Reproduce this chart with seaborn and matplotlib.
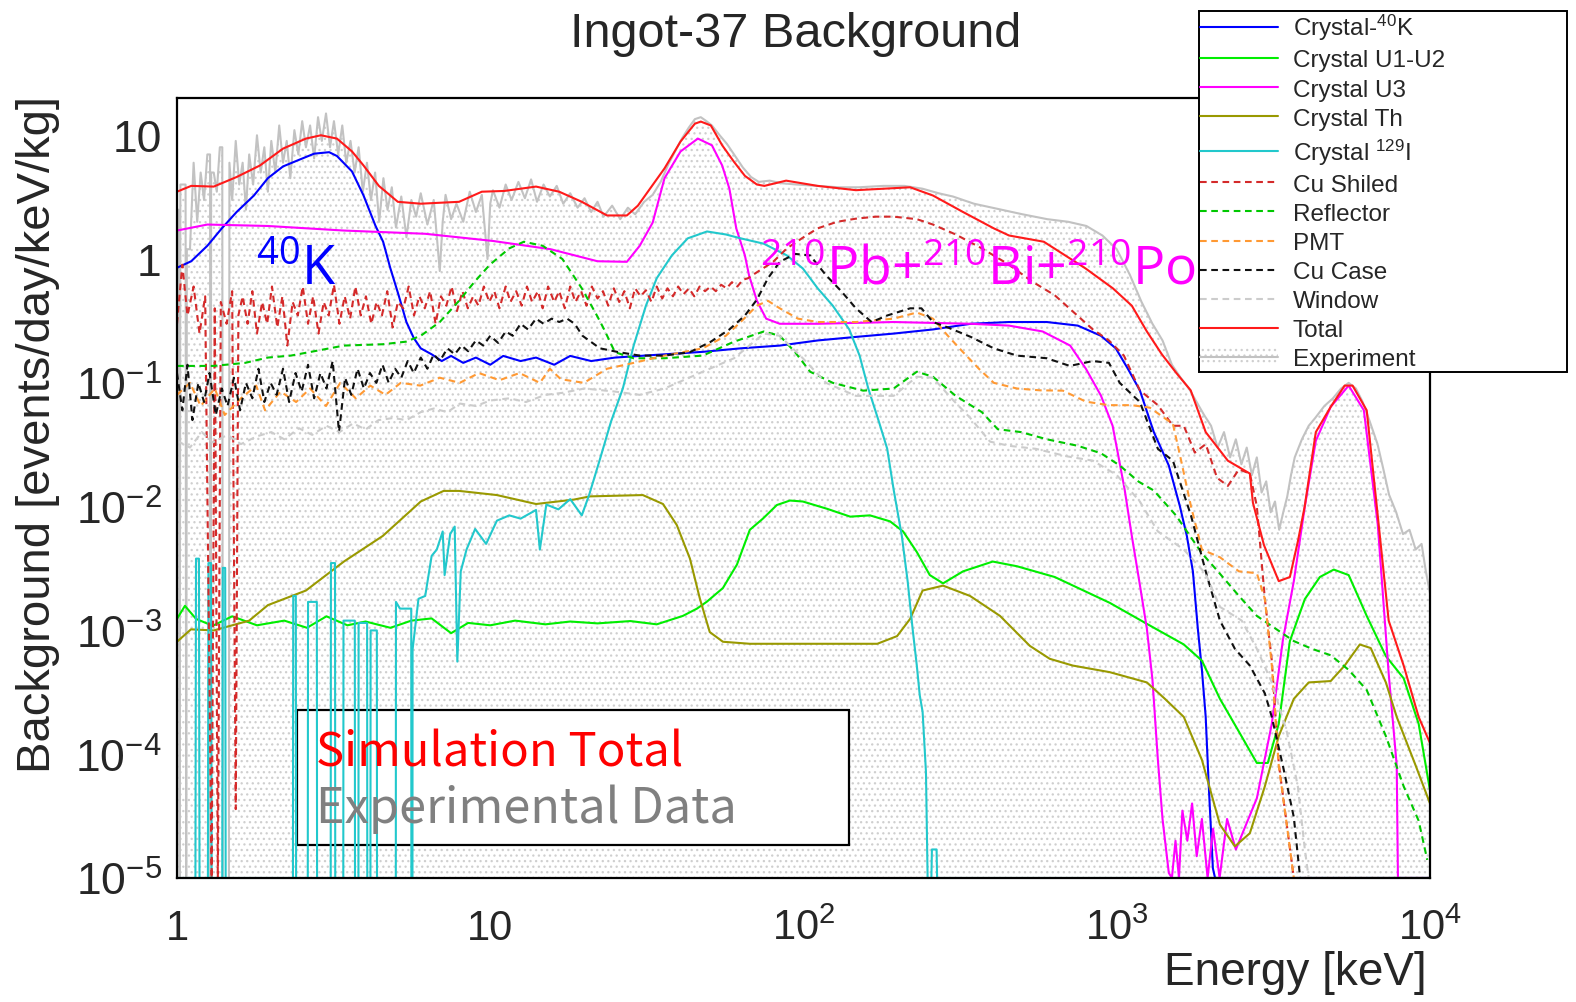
import numpy as np
import matplotlib
matplotlib.use("Agg")
import matplotlib.pyplot as plt
import seaborn as sns
from matplotlib.patches import Rectangle, Patch
from matplotlib.lines import Line2D
from matplotlib.ticker import FixedLocator, FixedFormatter, LogLocator, NullFormatter

# ---------------- data (energy in keV, background in events/day/keV/kg) ----------------
x_ticks = [1, 10, 100, 1000, 10000]
x_tick_labels = ["1", "10", "$10^{2}$", "$10^{3}$", "$10^{4}$"]
y_ticks = [1e-5, 1e-4, 1e-3, 1e-2, 1e-1, 1, 10]
y_tick_labels = ["$10^{-5}$", "$10^{-4}$", "$10^{-3}$", "$10^{-2}$", "$10^{-1}$", "1", "10"]

exp_E = [1.00, 1.015, 1.02, 1.025, 1.05, 1.065, 1.07, 1.075, 1.10, 1.13, 1.16, 1.19, 1.22, 1.25, 1.275, 1.28,
         1.285, 1.31, 1.34, 1.37, 1.395, 1.40, 1.465, 1.47, 1.50, 1.54, 1.58, 1.62, 1.66, 1.70, 1.75, 1.80,
         1.85, 1.90, 1.95, 2.00, 2.06, 2.12, 2.18, 2.24, 2.30, 2.37, 2.44, 2.51, 2.58, 2.66, 2.74, 2.82,
         2.90, 2.99, 3.08, 3.17, 3.27, 3.37, 3.47, 3.58, 3.69, 3.80, 3.92, 4.04, 4.16, 4.29, 4.42, 4.56,
         4.70, 4.85, 5.00, 5.20, 5.40, 5.60, 5.80, 6.00, 6.30, 6.60, 6.90, 7.05, 7.20, 7.50, 7.80, 8.20,
         8.60, 9.00, 9.40, 9.80, 10.0, 10.2, 10.7, 11.2, 11.7, 12.3, 12.9, 13.5, 14.1, 14.8, 15.5, 16.3,
         17.1, 18.0, 19.0, 20.0, 21.0, 22.0, 23.0, 24.5, 26.0, 27.5, 29.0, 31.0, 33.0, 35.0, 37.0, 39.0,
         41.0, 43.0, 45.0, 47.0, 49.0, 51.0, 54.0, 57.0, 60.0, 64.0, 68.0, 72.0, 78.0, 85.0, 95.0, 110,
         130, 150, 180, 210, 240, 270, 300, 350, 400, 500, 600, 700, 800, 900, 1000, 1100,
         1200, 1300, 1400, 1500, 1600, 1700, 1800, 1900, 2000, 2100, 2200, 2300, 2400, 2500, 2600, 2700,
         2800, 2900, 3000, 3100, 3200, 3300, 3400, 3500, 3600, 3700, 3900, 4100, 4300, 4600, 4900, 5200,
         5500, 5800, 6100, 6400, 6800, 7100, 7400, 7800, 8200, 8600, 9000, 9400, 9700, 10000]
exp_V = [2.5, 2.5, 0, 4.0, 4.0, 4.0, 0, 1.2, 1.2, 6.0, 2.0, 5.0, 3.0, 7.0, 7.0, 0,
         5.0, 5.0, 3.5, 8.0, 8.0, 0, 0, 6.0, 3.0, 9.0, 4.0, 6.0, 2.5, 7.0, 4.0, 10,
         5.0, 8.0, 3.5, 9.0, 5.0, 12, 6.0, 9.0, 4.5, 11, 7.0, 13, 8.0, 12, 6.5, 14,
         9.0, 15, 8.0, 13, 7.0, 12, 6.0, 9.0, 5.0, 8.0, 3.5, 6.0, 3.0, 5.0, 2.0, 4.5,
         2.5, 3.8, 1.8, 3.2, 1.5, 3.0, 2.2, 3.4, 1.9, 3.0, 0.8, 2.0, 3.3, 2.1, 2.8, 2.0,
         3.5, 2.4, 3.3, 1.0, 2.8, 3.6, 2.6, 4.0, 3.0, 4.2, 3.1, 4.4, 2.9, 4.0, 3.2, 3.9,
         2.8, 3.4, 2.6, 3.1, 2.4, 2.9, 2.2, 2.7, 2.1, 2.6, 2.3, 2.9, 3.3, 4.2, 5.8, 7.5,
         9.5, 11.5, 13.5, 14.0, 13.0, 12.0, 10.0, 8.5, 7.0, 5.5, 4.6, 4.2, 4.3, 4.1, 4.0, 3.9,
         3.8, 3.8, 3.9, 3.9, 3.7, 3.4, 3.2, 2.8, 2.6, 2.3, 2.1, 2.0, 1.85, 1.55, 1.2, 0.75,
         0.45, 0.3, 0.22, 0.14, 0.11, 0.09, 0.07, 0.055, 0.045, 0.03, 0.04, 0.025, 0.035, 0.022, 0.03, 0.018,
         0.025, 0.013, 0.016, 0.009, 0.011, 0.0065, 0.009, 0.012, 0.018, 0.025, 0.035, 0.045, 0.052, 0.065, 0.075, 0.09,
         0.1, 0.09, 0.07, 0.05, 0.032, 0.02, 0.0125, 0.009, 0.006, 0.0065, 0.0045, 0.005, 0.003, 0.002]

total_E = [1.0, 1.11, 1.31, 1.55, 1.84, 2.18, 2.58, 2.88, 3.24, 3.62, 3.94, 4.41, 5.07, 6.0, 7.95, 9.4,
           11.1, 14, 16.6, 19.6, 23.6, 27.3, 29.6, 36, 40.5, 45, 47, 50.6, 55, 60, 65, 71,
           75, 88, 111, 147, 219, 259, 323, 405, 453, 585, 795, 972, 1117, 1248, 1393, 1550,
           1722, 1923, 2263, 2660, 2720, 2950, 3290, 3570, 3790, 3980, 4320, 4820, 5340, 5660, 6280, 6810,
           7380, 8240, 9200, 10000]
total_V = [3.5, 3.9, 3.85, 4.6, 5.7, 7.8, 9.4, 10, 9.4, 7.4, 5.7, 3.9, 2.9, 2.8, 2.9, 3.5,
           3.55, 3.85, 3.5, 2.9, 2.25, 2.25, 2.7, 5.4, 8.9, 12.4, 12.9, 12, 8.3, 6.1, 4.7, 4.0,
           3.9, 4.3, 3.9, 3.6, 3.8, 3.26, 2.4, 1.77, 1.55, 1.38, 0.84, 0.58, 0.42, 0.26, 0.17, 0.12,
           0.087, 0.040, 0.0235, 0.0185, 0.0108, 0.0049, 0.0025, 0.0027, 0.0053, 0.010, 0.040, 0.064, 0.095, 0.095, 0.060, 0.0085,
           0.0012, 0.00052, 0.0002, 0.000123]

k40_E = [1.0, 1.11, 1.25, 1.39, 1.55, 1.76, 1.95, 2.18, 2.44, 2.74, 3.06, 3.24, 3.62, 3.94, 4.3, 4.55,
         4.8, 5.1, 5.4, 5.7, 6.0, 6.5, 7.0, 7.5, 8.2, 9.0, 10, 11, 12.5, 14, 16, 18,
         21, 25, 30, 36, 47.7, 63, 84, 111, 147, 194, 259, 342, 453, 598, 751, 890,
         993, 1085, 1185, 1313, 1466, 1590, 1674, 1750, 1815, 1870, 1923, 1967, 2027, 2060, 10000]
k40_V = [0.85, 0.96, 1.28, 1.77, 2.4, 3.26, 4.5, 5.6, 6.3, 7.1, 7.3, 6.8, 5.1, 3.26, 1.86, 1.38,
         0.84, 0.51, 0.31, 0.23, 0.19, 0.17, 0.15, 0.165, 0.145, 0.16, 0.14, 0.165, 0.15, 0.16, 0.14, 0.165,
         0.15, 0.16, 0.165, 0.17, 0.178, 0.19, 0.2, 0.22, 0.235, 0.25, 0.27, 0.30, 0.31, 0.31, 0.29, 0.24,
         0.19, 0.13, 0.087, 0.04, 0.0215, 0.0101, 0.0058, 0.003, 0.00103, 0.00048, 0.0002, 5.5e-5, 1.2e-5, 0, 0]

u12_E = [1.0, 1.06, 1.15, 1.3, 1.5, 1.8, 2.2, 2.6, 3.0, 3.5, 4.0, 4.8, 5.6, 6.5, 7.5, 8.5,
         10, 12, 15, 18, 22, 28, 34, 41.2, 45.7, 49.2, 55.3, 61.3, 67.4, 74.2, 82.2, 90.5,
         99.5, 119, 141, 163, 189, 208, 230, 253, 279, 323, 402, 480, 634, 950, 1248, 1637,
         1870, 2135, 2455, 2800, 3035, 3290, 3570, 3985, 4450, 4930, 5500, 6280, 7230, 8240, 9200, 10000]
u12_V = [0.00124, 0.00158, 0.00124, 0.00109, 0.0013, 0.0011, 0.0012, 0.00105, 0.0013, 0.0011, 0.00118, 0.00105, 0.0012, 0.00125, 0.00095, 0.00115,
         0.0011, 0.0012, 0.00112, 0.00118, 0.00114, 0.00119, 0.00112, 0.00131, 0.0015, 0.00171, 0.0022, 0.0034, 0.0065, 0.008, 0.0103, 0.0112,
         0.011, 0.0096, 0.0083, 0.0085, 0.0076, 0.0063, 0.0043, 0.0028, 0.0024, 0.003, 0.0036, 0.0033, 0.0027, 0.00167, 0.00113, 0.00077,
         0.00057, 0.00028, 0.000152, 8.5e-5, 8.5e-5, 0.000176, 0.00082, 0.00179, 0.0027, 0.0031, 0.0028, 0.00131, 0.00062, 0.00041, 0.000176, 5.1e-5]

u3_E = [1.0, 1.25, 1.95, 3.4, 6.2, 10.2, 15.6, 22, 27.3, 30, 33, 36, 40.5, 46, 51, 55,
        58, 61, 65, 67, 71, 76, 84, 111, 194, 342, 453, 580, 710, 797, 890, 970,
        1008, 1060, 1117, 1180, 1248, 1300, 1353, 1400, 1466, 1500, 1540, 1580, 1620, 1680, 1740, 1800,
        1870, 1950, 2030, 2130, 2250, 2400, 2800, 3126, 3390, 3675, 3985, 4320, 4820, 5500, 6150, 6810,
        7380, 7830, 7900, 10000]
u3_V = [1.7, 1.9, 1.85, 1.7, 1.6, 1.4, 1.2, 0.96, 0.95, 1.28, 1.97, 4.5, 7.4, 9.4, 8.3, 5.7,
        3.7, 1.77, 1.07, 0.74, 0.46, 0.33, 0.30, 0.30, 0.31, 0.30, 0.29, 0.26, 0.2, 0.13, 0.079, 0.045,
        0.027, 0.0137, 0.0058, 0.0025, 0.00103, 0.0004, 9e-5, 3e-5, 1.1e-5, 0, 2e-5, 0, 3.5e-5, 2e-5, 4e-5, 1.5e-5,
        3e-5, 0, 2.5e-5, 0, 3e-5, 1.7e-5, 4.4e-5, 0.000176, 0.00083, 0.0025, 0.01, 0.034, 0.064, 0.095, 0.06, 0.0072,
        0.00045, 8.1e-5, 0, 0]

th_E = [1.0, 1.108, 1.31, 1.7, 1.95, 2.58, 3.41, 4.54, 6.0, 7.1, 7.95, 10.5, 14, 18.5, 20.8, 30.7,
        35.6, 39.4, 43.4, 46.7, 50.2, 55.3, 67.4, 110, 172, 199, 219, 240, 279, 340, 424, 528,
        611, 724, 950, 1248, 1425, 1637, 1870, 2135, 2383, 2660, 2970, 3290, 3675, 4100, 4820, 5340,
        5970, 6470, 7230, 7830, 8950, 10000]
th_V = [0.00081, 0.00102, 0.001, 0.0012, 0.0016, 0.0021, 0.0036, 0.0058, 0.011, 0.0134, 0.0134, 0.0124, 0.0105, 0.0114, 0.0121, 0.0124,
        0.0105, 0.0071, 0.0038, 0.0018, 0.00097, 0.00081, 0.00078, 0.00078, 0.00078, 0.0009, 0.00124, 0.0021, 0.0023, 0.0019, 0.00131, 0.00075,
        0.00059, 0.00052, 0.00046, 0.00038, 0.00028, 0.0002, 9e-5, 2.7e-5, 1.8e-5, 2.3e-5, 5.5e-5, 0.00014, 0.00028, 0.00038, 0.00039, 0.00052,
        0.00077, 0.00072, 0.00038, 0.0002, 8.4e-5, 4e-5]

i129_E = [1.0, 1.145, 1.15, 1.175, 1.18, 1.255, 1.26, 1.285, 1.29, 1.395, 1.40, 1.425, 1.43, 2.345, 2.35, 2.395,
          2.40, 2.615, 2.62, 2.795, 2.80, 3.095, 3.10, 3.195, 3.20, 3.395, 3.40, 3.695, 3.70, 3.795, 3.80, 4.045,
          4.05, 4.145, 4.15, 4.345, 4.35, 4.995, 5.0, 5.15, 5.595, 5.6, 5.645, 5.65, 5.9, 6.2, 6.5, 6.75,
          7.05, 7.15, 7.45, 7.7, 7.85, 8.05, 8.4, 8.95, 9.7, 10.5, 11.5, 12.5, 14.0, 14.4, 15.1, 16.5,
          18.0, 19.6, 20.7, 22.4, 24.3, 26.5, 28.7, 31.4, 34.0, 38.0, 42.7, 49.2, 56.5, 63, 74.7, 88.5,
          99.5, 111, 124, 140, 151, 161, 174, 185, 194, 206, 215, 223, 230, 235, 240, 246,
          249, 256, 257, 266, 267, 10000]
i129_V = [0, 0, 0.0038, 0.0038, 0, 0, 0.0035, 0.0035, 0, 0, 0.0032, 0.0032, 0, 0, 0.0019, 0.0019,
          0, 0, 0.0017, 0.0017, 0, 0, 0.0035, 0.0035, 0, 0, 0.0012, 0.0012, 0, 0, 0.00115, 0.00115,
          0, 0, 0.001, 0.001, 0, 0, 0.0017, 0.0015, 0.0015, 0, 0, 0.0007, 0.0018, 0.0019, 0.004, 0.0045,
          0.0063, 0.0028, 0.006, 0.0069, 0.00056, 0.003, 0.0045, 0.0066, 0.005, 0.0077, 0.0085, 0.008, 0.0094, 0.0045, 0.0104, 0.0095,
          0.0115, 0.0085, 0.0125, 0.0242, 0.0487, 0.09, 0.2, 0.42, 0.70, 1.07, 1.47, 1.67, 1.58, 1.47, 1.33, 1.07,
          0.84, 0.58, 0.42, 0.27, 0.166, 0.09, 0.0487, 0.0294, 0.0137, 0.0058, 0.0025, 0.00103, 0.00052, 0.0003, 0.00022, 7.2e-5,
          0, 0, 1.7e-5, 1.7e-5, 0, 0]

cus_E = [1.00, 1.04, 1.08, 1.13, 1.18, 1.23, 1.29, 1.32, 1.35, 1.38, 1.44, 1.50, 1.54, 1.57, 1.62, 1.68,
         1.74, 1.80, 1.87, 1.94, 2.01, 2.09, 2.17, 2.25, 2.34, 2.43, 2.52, 2.62, 2.72, 2.83, 2.94, 3.05,
         3.17, 3.30, 3.43, 3.57, 3.71, 3.86, 4.01, 4.17, 4.34, 4.51, 4.69, 4.88, 5.07, 5.28, 5.49, 5.71,
         5.94, 6.18, 6.43, 6.69, 6.96, 7.24, 7.53, 7.83, 8.15, 8.48, 8.82, 9.17, 9.54, 9.93, 10.3, 10.7,
         11.2, 11.6, 12.1, 12.6, 13.1, 13.6, 14.2, 14.7, 15.3, 16.0, 16.6, 17.3, 18.0, 18.7, 19.5, 20.3,
         21.1, 22.0, 22.9, 23.8, 24.8, 25.8, 26.8, 27.9, 29.0, 30.2, 31.4, 32.7, 34.0, 35.4, 36.8, 38.3,
         39.8, 41.4, 43.1, 44.8, 46.6, 48.5, 50.5, 52.5, 54.6, 56.8, 59.1, 61.5, 64, 66.5, 69.2, 72,
         80, 88.5, 100, 111, 128, 147, 170, 194, 230, 259, 306, 371, 453, 536, 634, 730,
         839, 944, 1054, 1185, 1353, 1511, 1637, 1775, 1923, 2090, 2263, 2455, 2660, 2800, 2970, 3126,
         3290, 3490, 3675, 10000]
cus_V = [0.3, 0.9, 0.35, 0.6, 0.25, 0.5, 0, 0.4, 0, 0.45, 0.3, 0.55, 3.6e-5, 0.35, 0.5, 0.3,
         0.55, 0.25, 0.45, 0.3, 0.6, 0.28, 0.5, 0.2, 0.45, 0.35, 0.6, 0.3, 0.5, 0.25, 0.45, 0.35,
         0.62, 0.3, 0.5, 0.33, 0.6, 0.35, 0.5, 0.3, 0.45, 0.35, 0.55, 0.28, 0.45, 0.4, 0.6, 0.35,
         0.5, 0.4, 0.55, 0.3, 0.5, 0.42, 0.6, 0.38, 0.55, 0.4, 0.5, 0.42, 0.6, 0.45, 0.55, 0.4,
         0.6, 0.45, 0.55, 0.42, 0.6, 0.45, 0.55, 0.4, 0.6, 0.45, 0.55, 0.4, 0.6, 0.45, 0.55, 0.42,
         0.6, 0.48, 0.55, 0.42, 0.58, 0.45, 0.55, 0.4, 0.58, 0.5, 0.56, 0.45, 0.6, 0.48, 0.58, 0.5,
         0.6, 0.52, 0.58, 0.5, 0.6, 0.55, 0.6, 0.55, 0.62, 0.58, 0.65, 0.6, 0.68, 0.7, 0.75, 0.8,
         0.95, 1.22, 1.5, 1.77, 2.0, 2.12, 2.2, 2.2, 2.1, 1.9, 1.58, 1.22, 0.9, 0.66, 0.51, 0.37,
         0.27, 0.22, 0.166, 0.087, 0.066, 0.045, 0.045, 0.0273, 0.032, 0.0171, 0.0147, 0.02, 0.0185, 0.0101, 0.0018, 0.00057,
         8.4e-5, 2.7e-5, 0, 0]

refl_E = [1.0, 1.31, 1.65, 1.95, 2.31, 2.74, 3.41, 4.54, 5.38, 6.0, 6.9, 7.95, 8.93, 9.97, 11.5, 12.8,
          14.7, 17.0, 19.6, 21.9, 23.1, 25, 28.7, 36, 47.7, 60, 74.7, 84, 94, 105, 124, 155,
          194, 230, 259, 306, 371, 417, 495, 598, 751, 890, 1022, 1175, 1313, 1545, 1870, 2135,
          2455, 2800, 3220, 3675, 4200, 4820, 5500, 6280, 7230, 8240, 9200, 9800]
refl_V = [0.137, 0.137, 0.145, 0.16, 0.166, 0.18, 0.2, 0.205, 0.215, 0.24, 0.31, 0.46, 0.66, 0.9, 1.22, 1.38,
          1.28, 1.0, 0.58, 0.35, 0.27, 0.177, 0.158, 0.158, 0.166, 0.215, 0.26, 0.24, 0.177, 0.123, 0.1, 0.0865,
          0.09, 0.123, 0.112, 0.0785, 0.058, 0.0422, 0.04, 0.035, 0.031, 0.027, 0.0215, 0.0159, 0.0135, 0.0085, 0.0042, 0.00287,
          0.0019, 0.00131, 0.00103, 0.00082, 0.00071, 0.00063, 0.00048, 0.00033, 0.00014, 5.5e-5, 2.9e-5, 1.4e-5]

pmt_E = [1.0, 1.1, 1.19, 1.32, 1.42, 1.6, 1.79, 1.91, 2.14, 2.4, 2.66, 2.99, 3.32, 3.72, 4.14, 4.63,
         5.18, 5.98, 6.9, 7.99, 9.2, 10.7, 12.4, 14.4, 15.5, 16.8, 19.9, 23.6, 28.7, 36, 47.7, 56.5,
         63, 71, 77, 84, 96, 111, 147, 194, 230, 259, 289, 323, 363, 405, 480, 569,
         673, 797, 944, 1117, 1276, 1511, 1590, 1725, 1870, 2135, 2455, 2800, 2970, 3126, 3290, 3490,
         3675, 10000]
pmt_V = [0.08, 0.1, 0.065, 0.09, 0.055, 0.075, 0.095, 0.06, 0.085, 0.07, 0.09, 0.065, 0.1, 0.075, 0.095, 0.08,
         0.1, 0.095, 0.11, 0.1, 0.12, 0.105, 0.12, 0.1, 0.13, 0.107, 0.1, 0.13, 0.145, 0.166, 0.19, 0.24,
         0.31, 0.42, 0.46, 0.4, 0.33, 0.31, 0.31, 0.33, 0.37, 0.33, 0.24, 0.177, 0.13, 0.1, 0.09, 0.087,
         0.0865, 0.0705, 0.066, 0.066, 0.063, 0.0465, 0.0263, 0.0101, 0.0045, 0.0039, 0.003, 0.0029, 0.0018, 0.00052, 8.1e-5, 2.7e-5,
         0, 0]

cuc_E = [1.0, 1.04, 1.08, 1.12, 1.17, 1.22, 1.27, 1.33, 1.39, 1.45, 1.52, 1.59, 1.66, 1.74, 1.82, 1.9,
         1.99, 2.08, 2.18, 2.28, 2.39, 2.5, 2.62, 2.74, 2.87, 3.0, 3.14, 3.29, 3.44, 3.6, 3.77, 3.95,
         4.13, 4.33, 4.53, 4.74, 4.97, 5.2, 5.45, 5.7, 6.0, 6.3, 6.6, 6.9, 7.3, 7.7, 8.1, 8.5,
         9.0, 9.5, 10, 10.6, 11.2, 11.8, 12.5, 13.2, 14, 14.8, 15.7, 16.6, 17.6, 18.6, 19.7, 22.4,
         25.7, 30, 36, 43.4, 50.6, 58, 65, 71, 77, 84, 94, 105, 118, 132, 147, 165,
         185, 219, 238, 259, 289, 342, 405, 480, 598, 708, 839, 944, 1022, 1185, 1353, 1511,
         1725, 1923, 2135, 2383, 2660, 2970, 3126, 3390, 3675, 3850, 10000]
cuc_V = [0.12, 0.06, 0.14, 0.05, 0.1, 0.07, 0.12, 0.055, 0.09, 0.065, 0.11, 0.06, 0.1, 0.075, 0.13, 0.07,
         0.1, 0.08, 0.13, 0.07, 0.12, 0.085, 0.14, 0.075, 0.12, 0.09, 0.15, 0.04, 0.11, 0.08, 0.13, 0.09,
         0.12, 0.1, 0.14, 0.1, 0.13, 0.11, 0.15, 0.12, 0.16, 0.13, 0.17, 0.15, 0.19, 0.17, 0.2, 0.18,
         0.22, 0.2, 0.24, 0.21, 0.26, 0.24, 0.3, 0.27, 0.33, 0.3, 0.33, 0.31, 0.33, 0.3, 0.24, 0.19,
         0.177, 0.166, 0.166, 0.177, 0.215, 0.27, 0.35, 0.47, 0.7, 0.95, 1.1, 1.07, 0.74, 0.55, 0.4, 0.31,
         0.35, 0.4, 0.4, 0.31, 0.28, 0.235, 0.19, 0.166, 0.158, 0.137, 0.15, 0.145, 0.1, 0.07, 0.0293, 0.0235,
         0.0085, 0.003, 0.0012, 0.00071, 0.00052, 0.00031, 0.0002, 8.1e-5, 3.1e-5, 0, 0]

win_E = [1.0, 1.1, 1.2, 1.3, 1.45, 1.6, 1.8, 2.0, 2.2, 2.45, 2.7, 3.0, 3.3, 3.65, 4.0, 4.4,
         4.9, 5.4, 6.0, 6.6, 7.3, 8.0, 9.0, 10, 11.5, 13, 15, 17, 20, 25, 30, 36,
         47.7, 60, 74.7, 84, 99.5, 118, 147, 194, 230, 259, 298, 342, 394, 453, 552, 693,
         839, 1000, 1185, 1353, 1637, 1923, 2135, 2506, 2800, 3126, 3490, 3785, 3985, 4100, 10000]
win_V = [0.034, 0.03, 0.04, 0.033, 0.038, 0.032, 0.037, 0.04, 0.035, 0.043, 0.038, 0.045, 0.04, 0.047, 0.042, 0.05,
         0.052, 0.05, 0.058, 0.062, 0.058, 0.068, 0.065, 0.072, 0.075, 0.07, 0.08, 0.083, 0.09, 0.085, 0.08, 0.09,
         0.123, 0.158, 0.25, 0.24, 0.158, 0.1, 0.0785, 0.0785, 0.112, 0.11, 0.074, 0.0515, 0.0335, 0.031, 0.0293, 0.0255,
         0.0235, 0.018, 0.011, 0.0063, 0.0045, 0.00287, 0.00155, 0.0012, 0.00071, 0.00038, 0.000152, 5.5e-5, 1.7e-5, 0, 0]

# ---------------- style ----------------
sns.set_theme(style="white")
plt.rcParams["font.family"] = ["Liberation Sans", "DejaVu Sans"]
plt.rcParams["mathtext.default"] = "regular"
plt.rcParams["hatch.linewidth"] = 0.9

W, H = 1576, 1003
fig = plt.figure(figsize=(W / 100, H / 100), dpi=100)
ax = fig.add_axes([177 / W, 1 - 879 / H, (1430 - 177) / W, (879 - 99) / H])
ax.set_xscale("log")
ax.set_yscale("log")
YMIN, YMAX = 1e-5, 20
ax.set_xlim(1, 1e4)
ax.set_ylim(YMIN, YMAX)


def floor(v):
    return np.maximum(np.asarray(v, dtype=float), YMIN)


HATCH_C = "#cfcfcf"
# experiment: dotted area + grey line
ax.fill_between(exp_E, YMIN, floor(exp_V), facecolor="none",
                edgecolor=HATCH_C, hatch="...", linewidth=0, zorder=1)

# white label box (behind the lines, above the dotted area)
ax.add_patch(Rectangle((297 / W, 1 - 846 / H), (849 - 297) / W, (846 - 711) / H,
                       transform=fig.transFigure, facecolor="white", edgecolor="black",
                       linewidth=1.6, zorder=1.5, clip_on=False))

LW = 1.5
DASH = (0, (3.2, 2.2))
series = [
    ("exp", exp_E, exp_V, "#c2c2c2", "-"),
    ("Crystal-$^{40}$K", k40_E, k40_V, "#0000ff", "-"),
    ("Crystal U1-U2", u12_E, u12_V, "#00ee00", "-"),
    ("Crystal U3", u3_E, u3_V, "#ff00ff", "-"),
    ("Crystal Th", th_E, th_V, "#999900", "-"),
    ("Crystal $^{129}$I", i129_E, i129_V, "#22c8cc", "-"),
    ("Cu Shiled", cus_E, cus_V, "#d42a2a", DASH),
    ("Reflector", refl_E, refl_V, "#00c800", DASH),
    ("PMT", pmt_E, pmt_V, "#ff9933", DASH),
    ("Cu Case", cuc_E, cuc_V, "#111111", DASH),
    ("Window", win_E, win_V, "#cccccc", DASH),
    ("Total", total_E, total_V, "#ff1a1a", "-"),
]
handles = {}
for name, E, V, col, ls in series:
    sns.lineplot(x=np.asarray(E, float), y=floor(V), ax=ax, color=col, linewidth=LW,
                 linestyle=ls, estimator=None, sort=False, legend=False, zorder=2)
    handles[name] = ax.lines[-1]

# ---------------- axes / ticks ----------------
for s in ax.spines.values():
    s.set_color("black")
    s.set_linewidth(1.6)
ax.xaxis.set_major_locator(FixedLocator(x_ticks))
ax.xaxis.set_major_formatter(FixedFormatter(x_tick_labels))
ax.yaxis.set_major_locator(FixedLocator(y_ticks))
ax.yaxis.set_major_formatter(FixedFormatter(y_tick_labels))
ax.xaxis.set_minor_locator(LogLocator(base=10, subs=range(2, 10), numticks=20))
ax.yaxis.set_minor_locator(LogLocator(base=10, subs=range(2, 10), numticks=20))
ax.xaxis.set_minor_formatter(NullFormatter())
ax.yaxis.set_minor_formatter(NullFormatter())
ax.tick_params(which="both", direction="in", top=False, right=False, color="black", width=1.4)
ax.tick_params(axis="x", which="major", length=19, labelsize=30, pad=44)
ax.tick_params(axis="x", which="minor", length=10)
ax.tick_params(axis="y", which="major", length=25, labelsize=32, pad=11)
ax.tick_params(axis="y", which="minor", length=13)
for lbl in ax.get_xticklabels():
    lbl.set_va("baseline")
ax.set_xlabel("")
ax.set_ylabel("")

# ---------------- texts ----------------
fig.text(796 / W, 1 - 47 / H, "Ingot-37 Background", ha="center", va="baseline", fontsize=35)
fig.text(1427 / W, 1 - 985 / H, "Energy [keV]", ha="right", va="baseline", fontsize=33)
fig.text(38 / W, 1 - 96 / H, "Background [events/day/keV/kg]", rotation=90,
         ha="center", va="top", fontsize=34)

ann = ["Open Sans", "DejaVu Sans"]
jp = ["Noto Sans CJK JP", "DejaVu Sans"]
fig.text(256 / W, 1 - 285 / H, "$^{40}$K", color="#0000ff", fontsize=39, family=ann,
         ha="left", va="baseline")
fig.text(760 / W, 1 - 285 / H, "$^{210}$Pb+$^{210}$Bi+$^{210}$Po", color="#ff00ff",
         fontsize=38.5, family=ann, ha="left", va="baseline")
fig.text(316 / W, 1 - 767 / H, "Simulation Total", color="#ff0000", fontsize=34, family=jp,
         ha="left", va="baseline", zorder=5)
fig.text(316 / W, 1 - 823 / H, "Experimental Data", color="#808080", fontsize=35, family=jp,
         ha="left", va="baseline", zorder=5)

# ---------------- legend ----------------
exp_handle = (Patch(facecolor="white", edgecolor=HATCH_C, hatch="...", linewidth=0),
              Line2D([], [], color="#c2c2c2", linewidth=LW))
order = ["Crystal-$^{40}$K", "Crystal U1-U2", "Crystal U3", "Crystal Th", "Crystal $^{129}$I",
         "Cu Shiled", "Reflector", "PMT", "Cu Case", "Window", "Total"]
leg_h = [handles[n] for n in order] + [exp_handle]
leg_l = order + ["Experiment"]
leg = fig.legend(leg_h, leg_l, loc="upper left",
                 bbox_to_anchor=(1199 / W, 1 - 377 / H, (1567 - 1199) / W, (377 - 12) / H),
                 mode="expand", frameon=True, fancybox=False, framealpha=1, edgecolor="black",
                 fontsize=17.5, handlelength=3.2, handletextpad=0.6, borderpad=0.05,
                 labelspacing=0.29, borderaxespad=0)
leg.get_frame().set_linewidth(1.4)

fig.savefig("out.png", dpi=100, facecolor="white")
